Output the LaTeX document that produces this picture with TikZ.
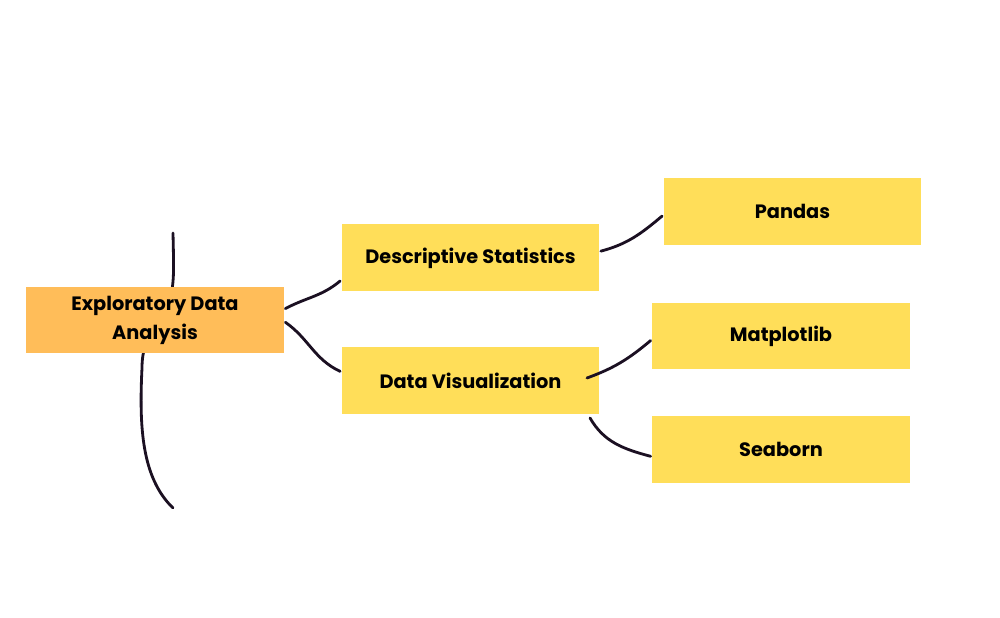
\documentclass[tikz,border=0pt]{standalone}
\usepackage{fontspec}
\setmainfont{Poppins}
\definecolor{ink}{HTML}{1B1022}
\definecolor{gold}{HTML}{FFDE59}
\definecolor{peach}{HTML}{FFBD59}
\begin{document}
\begin{tikzpicture}[x=0.02cm, y=0.02cm, line width=1.6pt, color=ink, line cap=round]
\useasboundingbox[fill=white] (0,0) rectangle (1000,618);
% stroke behind the root box
\draw (173,385) .. controls (174,340) .. (170,315) .. controls (166,290) and (142,290) .. (142,250) .. controls (139,190) and (142,140) .. (173,110);
\tikzstyle{every node} = [rectangle, fill=gold, text=black, minimum width=5.16cm, minimum height=1.34cm, align=center, font=\bfseries\fontsize{11}{16.5}\selectfont]
\node[fill=peach] (1) at (155,298) {Exploratory Data\\Analysis};
\node (2) at (470.5,360) {Descriptive Statistics};
\node (3) at (470.5,237.5) {Data Visualization};
\node (4) at (792.5,406.5) {Pandas};
\node (5) at (781,282) {Matplotlib};
\node (6) at (781,168.5) {Seaborn};
\tikzstyle{every node} = []
\coordinate (a) at (587,240);
\coordinate (b) at (590,200);
\draw (1.5) to[out=28, in=220] (2.190);
\draw (1.359) to[out=-35, in=155] (3.176);
\draw (2.3) to[out=15, in=220] (4.182);
\draw (a) to[out=20, in=220] (5.182);
\draw (b) to[out=-60, in=165] (6.183);
\end{tikzpicture}
\end{document}
